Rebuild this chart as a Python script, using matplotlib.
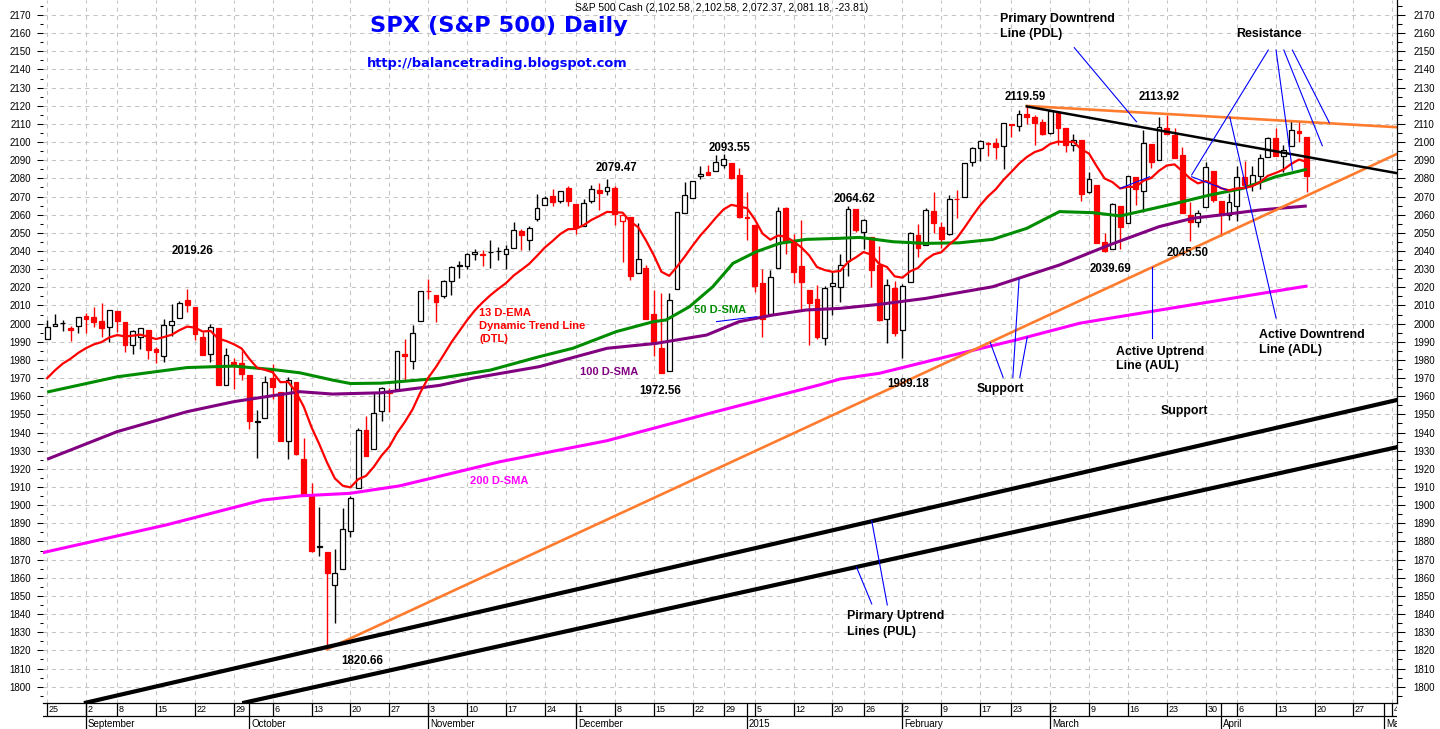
import matplotlib
matplotlib.use("Agg")
import matplotlib.pyplot as plt
import numpy as np
import pandas as pd

plt.rcParams['font.family'] = ['Liberation Sans', 'DejaVu Sans']

W, H = 1440, 729

# ---------------- data ----------------
holidays = ['2014-09-01', '2014-11-27', '2014-12-25', '2015-01-01',
            '2015-01-19', '2015-02-16', '2015-04-03']
trading_days = pd.bdate_range('2014-08-25', '2015-05-08', freq='C', holidays=holidays)

opens = [
    1991.74, 1998.59, 2000.54, 1997.42, 1998.45,
    2004.07, 2003.57, 2001.67, 1998.00,
    2007.17, 2000.73, 1988.41, 1992.85, 1996.74,
    1986.04, 1981.93, 1999.30, 2003.07, 2012.74,
    2009.08, 1992.78, 1983.34, 1997.32, 1966.22,
    1978.96, 1978.21,
    1971.44, 1945.83, 1948.12,
    1970.01, 1962.36, 1935.55, 1967.68, 1925.63,
    1905.65, 1877.11, 1874.18, 1855.95, 1864.91,
    1885.62, 1909.38, 1941.29, 1931.02, 1951.59,
    1962.97, 1964.14, 1983.29, 1979.49, 2001.20,
    2018.21, 2015.81, 2015.29, 2023.33, 2032.36,
    2032.01, 2038.20, 2037.75, 2039.21, 2039.74,
    2038.29, 2041.48, 2051.16, 2045.87, 2057.46,
    2065.07, 2070.15, 2067.36, 2074.78,
    2065.78, 2053.77, 2067.45, 2073.64, 2072.78,
    2074.84, 2056.55, 2058.86, 2027.92, 2030.36,
    2005.03, 1986.71, 1973.77, 2018.98, 2061.04,
    2069.28, 2081.48, 2083.25, 2084.30,
    2087.63, 2088.49, 2082.11,
    2058.90,
    2054.44, 2022.15, 2005.55, 2030.61, 2063.45,
    2046.13, 2031.58, 2018.40, 2013.75, 1992.25,
    2020.76, 2020.19, 2034.30, 2062.98,
    2050.42, 2047.86, 2032.34, 2002.45, 2019.35,
    1996.67, 2022.71, 2048.86, 2043.45, 2062.28,
    2053.47, 2049.38, 2068.55, 2069.98, 2088.78,
    2096.47, 2099.16, 2099.25, 2097.65,
    2109.83, 2109.10, 2115.30, 2113.91, 2110.88,
    2105.23, 2115.76, 2107.72, 2098.54, 2100.91,
    2072.25, 2076.14, 2044.69, 2041.10, 2064.56,
    2055.35, 2080.59, 2072.84, 2098.69, 2090.32,
    2107.99, 2103.94, 2093.10, 2059.94, 2055.78,
    2064.11, 2084.05,
    2067.63, 2060.03,
    2064.87, 2080.79, 2076.94, 2081.29, 2091.51,
    2102.03, 2092.28, 2097.82, 2105.96, 2102.58,
]
highs = [
    2001.95, 2005.04, 2002.14, 1998.55, 2003.38,
    2006.12, 2009.28, 2011.17, 2007.71,
    2007.17, 2001.01, 1996.66, 1997.65, 1996.74,
    1987.18, 2002.28, 2010.74, 2012.34, 2019.26,
    2009.08, 1995.41, 1999.79, 1997.32, 1986.37,
    1981.28, 1985.17,
    1971.44, 1952.32, 1971.19,
    1977.84, 1962.36, 1970.36, 1967.68, 1936.98,
    1912.09, 1898.71, 1874.18, 1876.01, 1898.16,
    1905.03, 1942.45, 1949.31, 1961.95, 1965.27,
    1964.64, 1985.05, 1991.40, 1999.40, 2018.19,
    2024.46, 2015.98, 2023.77, 2031.61, 2034.26,
    2038.70, 2041.28, 2040.33, 2046.18, 2042.22,
    2043.07, 2056.08, 2052.14, 2053.84, 2071.46,
    2070.17, 2074.21, 2073.29, 2075.76,
    2065.78, 2068.77, 2076.28, 2077.34, 2079.47,
    2075.78, 2060.60, 2058.86, 2055.53, 2032.25,
    2018.69, 2016.89, 2016.75, 2061.23, 2077.85,
    2078.76, 2086.73, 2087.56, 2092.70,
    2093.55, 2088.49, 2085.58,
    2072.36,
    2054.44, 2030.25, 2029.61, 2064.08, 2064.43,
    2049.30, 2056.93, 2018.40, 2021.35, 2020.46,
    2028.94, 2038.29, 2064.62, 2062.98,
    2057.62, 2047.86, 2042.49, 2024.64, 2023.32,
    2021.66, 2050.30, 2054.74, 2063.55, 2072.40,
    2056.16, 2070.86, 2073.48, 2088.53, 2097.03,
    2101.30, 2100.23, 2102.13, 2110.61,
    2110.05, 2117.94, 2119.59, 2115.16, 2112.74,
    2117.52, 2115.76, 2107.72, 2104.25, 2100.91,
    2083.49, 2076.14, 2050.08, 2066.41, 2064.56,
    2081.41, 2080.59, 2106.85, 2098.69, 2113.92,
    2114.86, 2107.63, 2097.43, 2067.15, 2062.83,
    2088.97, 2084.05,
    2067.63, 2072.17,
    2086.99, 2089.81, 2086.69, 2093.31, 2102.61,
    2107.65, 2098.62, 2111.91, 2111.30, 2102.58,
]
lows = [
    1991.74, 1998.59, 1996.20, 1990.52, 1994.65,
    1994.85, 1998.14, 1992.54, 1990.10,
    1995.60, 1984.61, 1982.99, 1985.93, 1980.26,
    1978.48, 1979.06, 1993.29, 2003.07, 2006.59,
    1991.01, 1982.77, 1978.63, 1965.99, 1966.22,
    1964.04, 1968.96,
    1941.72, 1926.03, 1948.12,
    1958.43, 1935.10, 1925.25, 1927.56, 1906.05,
    1874.14, 1871.79, 1820.66, 1835.02, 1864.91,
    1882.30, 1909.38, 1926.83, 1931.02, 1946.27,
    1951.37, 1964.14, 1969.04, 1974.75, 2001.20,
    2013.68, 2001.01, 2014.35, 2015.86, 2025.07,
    2030.17, 2035.28, 2031.95, 2030.44, 2035.20,
    2030.20, 2041.48, 2040.37, 2040.49, 2056.75,
    2065.07, 2064.75, 2066.62, 2065.06,
    2049.57, 2053.77, 2066.65, 2062.34, 2070.81,
    2054.27, 2034.17, 2024.26, 2027.92, 2002.33,
    1982.26, 1972.56, 1973.77, 2018.98, 2061.03,
    2069.28, 2079.77, 2081.86, 2084.30,
    2085.75, 2079.53, 2057.94,
    2046.04,
    2017.34, 1992.44, 2005.55, 2030.61, 2038.33,
    2022.58, 2008.25, 1988.44, 1991.47, 1988.12,
    2004.49, 2012.04, 2026.38, 2050.54,
    2040.97, 2019.91, 2001.49, 1989.18, 1993.38,
    1980.90, 2022.71, 2036.72, 2043.45, 2049.97,
    2041.88, 2048.62, 2057.99, 2069.98, 2086.70,
    2089.80, 2092.15, 2090.79, 2085.44,
    2102.54, 2105.87, 2109.89, 2098.26, 2103.75,
    2104.50, 2098.26, 2094.49, 2095.22, 2067.27,
    2072.21, 2044.16, 2039.69, 2041.10, 2041.17,
    2055.35, 2065.08, 2061.23, 2085.56, 2090.32,
    2104.42, 2091.50, 2061.05, 2045.50, 2052.96,
    2064.11, 2067.04,
    2048.38, 2057.32,
    2056.52, 2076.10, 2073.30, 2074.29, 2091.51,
    2092.33, 2083.24, 2097.82, 2100.02, 2072.37,
]
closes = [
    1997.92, 2000.02, 2000.12, 1996.74, 2003.37,
    2002.28, 2000.72, 1997.65, 2007.71,
    2001.54, 1988.44, 1995.69, 1997.45, 1985.54,
    1984.13, 1998.98, 2001.57, 2011.36, 2010.40,
    1994.29, 1982.77, 1998.30, 1965.99, 1982.85,
    1977.80, 1972.29,
    1946.16, 1946.17, 1967.90,
    1964.82, 1935.10, 1968.89, 1928.21, 1906.13,
    1874.74, 1877.70, 1862.49, 1862.76, 1886.76,
    1904.01, 1941.28, 1927.11, 1950.82, 1964.58,
    1961.63, 1985.05, 1982.30, 1994.65, 2018.05,
    2017.81, 2012.10, 2023.57, 2031.21, 2031.92,
    2038.26, 2039.68, 2038.25, 2039.33, 2039.82,
    2041.32, 2051.80, 2048.72, 2052.75, 2063.50,
    2069.41, 2067.03, 2072.83, 2067.56,
    2053.44, 2066.55, 2074.33, 2071.92, 2075.37,
    2060.31, 2059.82, 2026.14, 2035.33, 2002.33,
    1989.63, 1972.74, 2012.89, 2061.23, 2070.65,
    2078.54, 2082.17, 2081.88, 2088.77,
    2090.57, 2080.35, 2058.90,
    2058.20,
    2020.58, 2002.61, 2025.90, 2062.14, 2044.81,
    2028.26, 2023.03, 2011.27, 1992.67, 2019.42,
    2022.55, 2032.12, 2063.15, 2051.82,
    2057.09, 2029.55, 2002.16, 2021.25, 1994.99,
    2020.85, 2050.03, 2041.51, 2062.52, 2055.47,
    2046.74, 2068.59, 2068.53, 2088.48, 2096.99,
    2100.34, 2099.68, 2097.45, 2110.30,
    2109.66, 2115.48, 2113.86, 2110.74, 2104.50,
    2117.39, 2107.78, 2098.53, 2101.04, 2071.26,
    2079.43, 2044.16, 2040.24, 2065.95, 2053.40,
    2081.19, 2074.28, 2099.50, 2089.27, 2108.10,
    2104.42, 2091.50, 2061.05, 2056.15, 2061.02,
    2086.24, 2067.89,
    2059.69, 2066.96,
    2080.62, 2076.33, 2081.90, 2091.18, 2102.06,
    2092.43, 2095.84, 2106.63, 2104.99, 2081.18,
]
prior_close = 1988.40      # close of the session before the first candle
ema13_seed = 1965.3        # 13-day EMA value before the first candle

# moving averages (x = trading-day index)
sma50_x = [0, 9, 18, 24, 29, 32.5, 36.7, 39, 43, 50.5, 57, 63.3, 67.6, 73.2, 78, 79.6,
           82.6, 85.6, 88.2, 91.2, 94.2, 97.6, 102, 104.5, 108.8, 113, 117.3, 121.6,
           126, 130.2, 134.5, 138, 141, 145.2, 149.5, 153.8, 158, 162]
sma50_y = [1962.3, 1970.7, 1975.8, 1976.6, 1974.7, 1972.9, 1968.9, 1967.0, 1967.2, 1969.9,
           1974.4, 1981.8, 1986.4, 1995.6, 2001.1, 2002.0, 2009.3, 2020.3, 2033.2, 2039.6,
           2044.2, 2046.4, 2047.0, 2047.5, 2045.1, 2044.2, 2044.5, 2046.4, 2052.5, 2061.7,
           2061.1, 2059.3, 2062.2, 2066.3, 2070.8, 2074.5, 2080.9, 2085.0]
sma100_x = [0, 9, 18, 24, 29, 32.5, 36.7, 43, 50.5, 54.7, 63.3, 72, 78.3, 84.8, 89, 93.3,
            97.6, 102, 107, 113, 121.6, 130.2, 136.6, 143, 147.3, 151.6, 156, 162]
sma100_y = [1925.3, 1940.5, 1951.5, 1957.0, 1960.3, 1962.5, 1961.2, 1961.9, 1966.0, 1969.9,
            1976.3, 1986.4, 1989.1, 1993.7, 2001.1, 2004.7, 2007.5, 2008.4, 2010.6, 2013.9,
            2020.3, 2032.3, 2043.3, 2053.4, 2058.0, 2060.2, 2062.6, 2064.8]
sma200_x = [-0.6, 15.3, 27.7, 32.5, 38.9, 45.3, 58.2, 72, 86, 99.3, 102, 107, 115.7,
            124.6, 132.8, 135.3, 161, 162.1]
sma200_y = [1873.8, 1889.1, 1902.8, 1905.1, 1906.5, 1910.6, 1923.9, 1935.5, 1951.5, 1966.2,
            1969.5, 1972.6, 1981.8, 1991.0, 2000.2, 2002.0, 2020.0, 2020.7]

# drawn trend lines (x index, price)
aul_line = ([36, 173.57], [1820.66, 2093.4])          # active uptrend (orange)
res_line = ([126, 173.57], [2119.9, 2108.2])           # resistance (orange)
pdl_line = ([126, 173.57], [2119.6, 2082.9])           # primary downtrend (black)
pul_upper = ([4.99, 173.57], [1791.2, 1957.9])         # primary uptrend lines
pul_lower = ([25.34, 173.57], [1791.2, 1931.9])

# thin blue pointer lines (x index, price)
pointers = [
    ((132.1, 2152.0), (140.1, 2111.2)),
    ((157.05, 2150.7), (147.2, 2081.9)),
    ((158.05, 2150.7), (160.15, 2084.6)),
    ((159.05, 2150.7), (164.0, 2098.0)),
    ((160.15, 2150.7), (164.9, 2110.7)),
    ((152.1, 2113.8), (158.05, 2003.1)),
    ((138.0, 2074.5), (141.8, 2080.9)),
    ((147.2, 2080.9), (151.7, 2073.6)),
    ((86.1, 2001.1), (91.25, 2003.8)),
    ((121.3, 1989.5), (122.95, 1970.4)),
    ((125.0, 2024.4), (124.2, 1970.4)),
    ((126.05, 1992.5), (125.1, 1970.4)),
    ((142.05, 2031.4), (142.05, 1991.9)),
    ((106.05, 1891.4), (108.05, 1845.0)),
    ((104.1, 1865.8), (106.05, 1845.6)),
]

# ---------------- derived ----------------
o = np.array(opens); hi = np.array(highs); lo = np.array(lows); c = np.array(closes)
n = len(c)
x = np.arange(n)
prev = np.concatenate([[prior_close], c[:-1]])
cols = np.where(c >= prev, 'black', '#ff0000')
faces = [col if cl < op else 'white' for col, cl, op in zip(cols, c, o)]
body_bottom = np.minimum(o, c)
body_height = np.maximum(np.abs(c - o), 0.15)

alpha = 2.0 / 14.0
ema = []
e = ema13_seed
for v in c:
    e = e + alpha * (v - e)
    ema.append(e)

XL = (-0.54, 173.57)
YL = (1791.18, 2178.26)

fig = plt.figure(figsize=(W / 100, H / 100), dpi=100)
fig.patch.set_facecolor('white')
ax = fig.add_axes([43 / W, (H - 702.7) / H, (1396.7 - 43) / W, 702.7 / H])
ax.set_xlim(*XL)
ax.set_ylim(*YL)

all_idx = np.arange(len(trading_days))
week_idx = [i for i in all_idx if (i == 0 or trading_days[i].to_period('W') != trading_days[i - 1].to_period('W')) and i <= XL[1]]
month_idx = [i for i in all_idx[1:] if trading_days[i].month != trading_days[i - 1].month and i <= XL[1]]

ax.set_xticks(week_idx)
ax.tick_params(axis='x', length=0, labelbottom=False)
ax.set_yticks(np.arange(1800, 2171, 10))
ax.set_yticks(np.arange(1795, 2176, 10), minor=True)
ax.grid(True, which='major', color='#c4c4c4', linestyle=(0, (4, 4)), linewidth=0.75)
ax.set_axisbelow(True)
ax.tick_params(axis='y', which='major', left=True, right=False, labelleft=True,
               length=4.3, width=0.75, pad=4.3, labelsize=7, direction='out')
ax.tick_params(axis='y', which='minor', left=True, right=False, length=2.2, width=0.75)
for s in ['top', 'left', 'right']:
    ax.spines[s].set_visible(False)
ax.spines['bottom'].set_linewidth(0.9)

# candles
ax.vlines(x, lo, hi, colors=cols, linewidth=1.0, zorder=3)
ax.bar(x, body_height, bottom=body_bottom, width=0.62, color=faces,
       edgecolor=cols, linewidth=0.9, zorder=4)

# moving averages
ax.plot(sma200_x, sma200_y, color='#ff00ff', lw=2.2, zorder=5, solid_capstyle='butt')
ax.plot(sma100_x, sma100_y, color='#800080', lw=2.2, zorder=5, solid_capstyle='butt')
ax.plot(sma50_x, sma50_y, color='#008c00', lw=2.2, zorder=5, solid_capstyle='butt')
ax.plot(x, ema, color='#ff0000', lw=1.6, zorder=6)

# trend lines
ax.plot(*aul_line, color='#ff7b2e', lw=1.9, zorder=6)
ax.plot(*res_line, color='#ff7b2e', lw=1.9, zorder=6)
ax.plot(*pdl_line, color='black', lw=1.8, zorder=6)
ax.plot(*pul_upper, color='black', lw=3.0, zorder=6)
ax.plot(*pul_lower, color='black', lw=3.0, zorder=6)
for (x0, y0), (x1, y1) in pointers:
    ax.plot([x0, x1], [y0, y1], color='#0000ff', lw=0.8, zorder=7)

# right axis
axr = ax.twinx()
axr.set_ylim(*YL)
axr.set_yticks(np.arange(1800, 2171, 10))
axr.set_yticks(np.arange(1795, 2176, 10), minor=True)
axr.tick_params(axis='y', which='major', length=6, width=0.75, pad=6, labelsize=7, direction='out')
axr.tick_params(axis='y', which='minor', length=3.6, width=0.75)
for s in ['top', 'left', 'bottom']:
    axr.spines[s].set_visible(False)
axr.spines['right'].set_linewidth(0.9)

# date strip
axd = fig.add_axes([43 / W, 0, (1396.7 - 43) / W, 26.3 / H])
axd.set_xlim(*XL)
axd.set_ylim(0, 26.3)
axd.axis('off')
axd.axhline(13, color='black', lw=0.9)
axd.vlines(week_idx, 13, 26.3, colors='black', lw=0.9)
axd.vlines(month_idx, 0, 26.3, colors='black', lw=0.9)
for i in week_idx:
    axd.text(i + 0.2, 17.0, str(trading_days[i].day), fontsize=6.5, va='baseline',
             ha='left', clip_on=True)
for i in month_idx:
    d = trading_days[i]
    name = str(d.year) if d.month == 1 else d.strftime('%B')
    axd.text(i + 0.25, 2.3, name, fontsize=7, va='baseline', ha='left', clip_on=True)


def put(xp, yp, s, **kw):
    fig.text(xp / W, 1 - yp / H, s, **kw)


put(499, 32.3, "SPX (S&P 500) Daily", ha='center', va='baseline', fontsize=16.2,
    fontweight='bold', color='#0000ff', family='DejaVu Sans')
put(497.5, 66.7, "http://balancetrading.blogspot.com", ha='center', va='baseline',
    fontsize=9.4, fontweight='bold', color='#0000ff', family='DejaVu Sans')
put(575, 10.7, "S&P 500 Cash (2,102.58, 2,102.58, 2,072.37, 2,081.18, -23.81)",
    ha='left', va='baseline', fontsize=7.5)

peak_labels = [
    ("2019.26", 193, 254.5), ("2079.47", 616, 170.7), ("2093.55", 730, 150.7),
    ("2064.62", 855, 201.7), ("2119.59", 1025, 100), ("2113.92", 1159, 100),
    ("1972.56", 660, 393.5), ("1820.66", 362, 664.5), ("1989.18", 908, 387),
    ("2039.69", 1111, 272), ("2045.50", 1188, 255.7),
]
for s, xp, yp in peak_labels:
    put(xp, yp, s, ha='center', va='baseline', fontsize=8.3, fontweight='bold')

notes = [
    ("Primary Downtrend", 1000, 21.7), ("Line (PDL)", 1000, 37.3),
    ("Resistance", 1236, 37.0),
    ("Support", 977, 391.5), ("Support", 1161, 414.0),
    ("Active Uptrend", 1116, 354.5), ("Line (AUL)", 1116, 369.5),
    ("Active Downtrend", 1259, 338.0), ("Line (ADL)", 1259, 353.0),
    ("Pirmary Uptrend", 847, 619.0), ("Lines (PUL)", 847, 635.0),
]
for s, xp, yp in notes:
    put(xp, yp, s, ha='left', va='baseline', fontsize=8.9, fontweight='bold')

ma_labels = [
    ("13 D-EMA", 479, 316, '#ff0000'), ("Dynamic Trend Line", 479, 329, '#ff0000'),
    ("(DTL)", 479, 341.5, '#ff0000'), ("50 D-SMA", 694, 313.3, '#008c00'),
    ("100 D-SMA", 580, 375.3, '#800080'), ("200 D-SMA", 470, 484, '#ff00ff'),
]
for s, xp, yp, col in ma_labels:
    put(xp, yp, s, ha='left', va='baseline', fontsize=8, fontweight='bold', color=col)

fig.savefig('out.png', dpi=100)
